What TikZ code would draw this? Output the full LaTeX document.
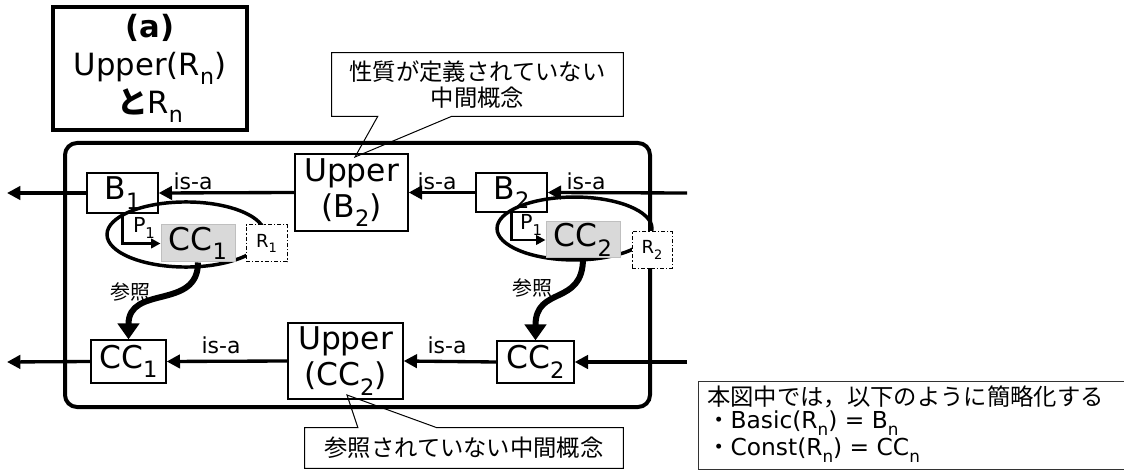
\documentclass[tikz,border=0pt]{standalone}
\usepackage{fontspec}
\usepackage{graphicx}
\setmainfont{DejaVu Sans}
\newfontfamily\jp{Noto Sans CJK JP}
\usetikzlibrary{arrows.meta, calc}

\definecolor{focusfill}{HTML}{D9D9D9}
\definecolor{focusline}{HTML}{BFBFBF}

\newcommand{\sbx}[1]{\raisebox{-0.3em}{\scalebox{0.72}{#1}}}

\tikzset{
  concept/.style={draw, line width=1pt, fill=white, inner sep=0pt, align=center,
    font=\fontsize{23.5}{27}\selectfont},
  focus/.style={concept, draw=focusline, fill=focusfill, line width=0.75pt},
  role/.style={draw, line width=0.75pt, fill=white, inner sep=0pt,
    dash pattern=on 3pt off 1.5pt on 1pt off 1.5pt, font=\fontsize{13.5}{15}\selectfont},
  isa/.style={inner sep=0pt, font=\fontsize{16.5}{18}\selectfont},
  plabel/.style={inner sep=0pt, font=\fontsize{15.5}{17}\selectfont},
  reflabel/.style={inner sep=0pt, font=\jp\fontsize{15}{17}\selectfont},
  isalink/.style={line width=2.5pt, -{Triangle[length=10pt,width=10pt]}},
  partlink/.style={line width=2pt, -{Triangle[length=7pt,width=7pt]}},
  reflink/.style={line width=4.5pt, -{Triangle[length=12pt,width=16pt]}},
  ring/.style={line width=2.6pt},
  holder/.style={line width=3pt, rounded corners=9pt},
  callbox/.style={inner sep=0pt, align=center, font=\jp\fontsize{17.5}{19.5}\selectfont},
  callline/.style={line width=0.75pt},
  titlebox/.style={draw, line width=2.5pt, inner sep=0pt, align=center,
    minimum width=145.5pt, minimum height=92.25pt, font=\fontsize{23}{25}\selectfont},
  notetext/.style={inner sep=0pt, anchor=west, font=\fontsize{17.5}{20}\selectfont}
}

\begin{document}
\begin{tikzpicture}[x=0.75pt, y=-0.75pt]
  \useasboundingbox (0,0) rectangle (1124,470);

  % range of R_n
  \draw[holder] (65,143) rectangle (650,407);

  % title
  \node[titlebox] (title) at (150,68.5) {{\bfseries (a)}\\[3pt]Upper(R\sbx{n})\\[2pt]{\jp\bfseries と}R\sbx{n}};

  % concepts
  \node[concept, minimum width=53.25pt, minimum height=30pt] (B1) at (122.5,193) {B\sbx{1}};
  \node[concept, minimum width=84.75pt, minimum height=57.75pt] (UpB2) at (351.5,192.5) {Upper\\(B\sbx{2})};
  \node[concept, minimum width=53.25pt, minimum height=29.25pt] (B2) at (511.5,192.5) {B\sbx{2}};
  \node[concept, minimum width=56.25pt, minimum height=32.25pt] (CC1l) at (128.5,361.5) {CC\sbx{1}};
  \node[concept, minimum width=86.25pt, minimum height=57pt] (UpCC2) at (345.5,361) {Upper\\(CC\sbx{2})};
  \node[concept, minimum width=57.75pt, minimum height=31.5pt] (CC2l) at (535.5,362) {CC\sbx{2}};

  % rings
  \draw[ring] (186,234.5) ellipse [x radius=59.25pt, y radius=24.4pt];
  \draw[ring] (574.5,228.5) ellipse [x radius=58.1pt, y radius=23.6pt];

  \node[focus, minimum width=55.5pt, minimum height=27.75pt] (CC1g) at (198,243.5) {CC\sbx{1}};
  \node[focus, minimum width=55.5pt, minimum height=27pt] (CC2g) at (583,240) {CC\sbx{2}};
  \node[role, minimum width=30.75pt, minimum height=27.75pt] (R1) at (266.5,243.5) {R\sbx{1}};
  \node[role, minimum width=30pt, minimum height=27.75pt] (R2) at (652,250) {R\sbx{2}};

  % free ends
  \coordinate (outB) at (7,193);
  \coordinate (inB) at (687,193);
  \coordinate (outC) at (7,362);
  \coordinate (inC) at (687,362);

  % is-a
  \draw[isalink] (inB) -- (B2.east);
  \draw[isalink] (B2.west) -- (UpB2.east);
  \draw[isalink] (UpB2.west) -- (B1.east);
  \draw[isalink] (B1.west) -- (outB);
  \draw[isalink] (inC) -- (CC2l.east);
  \draw[isalink] (CC2l.west) -- (UpCC2.east);
  \draw[isalink] (UpCC2.west) -- (CC1l.east);
  \draw[isalink] (CC1l.west) -- (outC);

  \node[isa] (isa1) at (193,181) {is-a};
  \node[isa] (isa2) at (437,181) {is-a};
  \node[isa] (isa3) at (586,181) {is-a};
  \node[isa] (isa4) at (221,345) {is-a};
  \node[isa] (isa5) at (447,345) {is-a};

  % P_1
  \draw[partlink] (B1.south) |- (CC1g.west);
  \draw[partlink] (B2.south) |- (CC2g.west);
  \node[plabel] (p1a) at (144,228) {P\sbx{1}};
  \node[plabel] (p1b) at (531,225) {P\sbx{1}};

  % reference
  \draw[reflink] (CC1g.south) .. controls +(0,48) and +(0,-55) .. (CC1l.north);
  \draw[reflink] (CC2g.south) .. controls +(0,48) and +(0,-55) .. (CC2l.north);
  \node[reflabel] (ref1) at (130,292) {参照};
  \node[reflabel] (ref2) at (532,288) {参照};

  % callouts
  \node[callbox, minimum width=218.25pt, minimum height=47.25pt] (callA) at (477.5,84.5) {性質が定義されていない\\中間概念};
  \coordinate (tipA) at (355,157);
  \draw[callline] (callA.north west) -- (callA.north east) -- (callA.south east)
    -- ($(callA.south west)!0.412!(callA.south east)$) -- (tipA)
    -- ($(callA.south west)!0.158!(callA.south east)$) -- (callA.south west) -- cycle;

  \node[callbox, minimum width=238.5pt, minimum height=30pt] (callB) at (464,448) {参照されていない中間概念};
  \coordinate (tipB) at (347,395);
  \draw[callline] (callB.south west) -- (callB.north west)
    -- ($(callB.north west)!0.167!(callB.north east)$) -- (tipB)
    -- ($(callB.north west)!0.415!(callB.north east)$) -- (callB.north east)
    -- (callB.south east) -- cycle;

  % simplification note
  \begin{scope}
    \clip (0,0) rectangle (1124,470);
    \draw[line width=0.75pt, black!80] (698,381) rectangle (1140,469);
  \end{scope}
  \node[notetext] (simpl1) at (707,397) {\jp 本図中では，以下のように簡略化する};
  \node[notetext] (simpl2) at (707,423) {{\jp ・}Basic(R\sbx{n}) = B\sbx{n}};
  \node[notetext] (simpl3) at (707,450) {{\jp ・}Const(R\sbx{n}) = CC\sbx{n}};
\end{tikzpicture}
\end{document}
